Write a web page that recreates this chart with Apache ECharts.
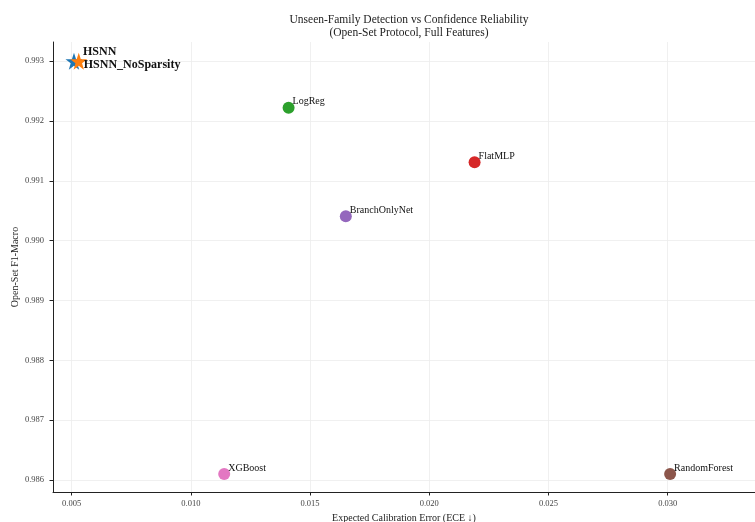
<!DOCTYPE html>
<html>
<head>
<meta charset="utf-8">
<script src="https://cdn.jsdelivr.net/npm/echarts@6/dist/echarts.min.js"></script>
<style>
  html, body { margin: 0; padding: 0; background: #fff; }
  #chart { width: 755px; height: 522px; }
</style>
</head>
<body>
<div id="chart"></div>
<script>
// Models: name, ECE (x), open-set F1-macro (y)
const modelNames = ['HSNN', 'HSNN_NoSparsity', 'LogReg', 'FlatMLP', 'BranchOnlyNet', 'XGBoost', 'RandomForest'];
const eceValues = [0.0051, 0.0053, 0.0141, 0.0219, 0.0165, 0.0114, 0.0301];
const f1Values = [0.99300, 0.99300, 0.99222, 0.99131, 0.99041, 0.98610, 0.98610];
const modelColors = ['#1f77b4', '#ff7f0e', '#2ca02c', '#d62728', '#9467bd', '#e377c2', '#8c564b'];

const xTicks = [0.005, 0.010, 0.015, 0.020, 0.025, 0.030];
const yTicks = [0.986, 0.987, 0.988, 0.989, 0.990, 0.991, 0.992, 0.993];

const STAR = 'path://M50,0 L61.8,35.1 L98.1,35.1 L68.7,56.8 L79.4,91.4 L50,70 L20.6,91.4 L31.3,56.8 L1.9,35.1 L38.2,35.1 Z';
const FONT = '"Liberation Serif", "DejaVu Serif", serif';

const series = modelNames.map((name, i) => {
  const isOurs = name.startsWith('HSNN');
  let labelOffset = [4, -6];
  if (name === 'HSNN') labelOffset = [9, -9];
  if (name === 'HSNN_NoSparsity') labelOffset = [5, 4];
  return {
    name: name,
    type: 'scatter',
    data: [[eceValues[i], f1Values[i]]],
    symbol: isOurs ? STAR : 'circle',
    symbolSize: isOurs ? 17 : 12,
    itemStyle: { color: modelColors[i], opacity: 1 },
    z: isOurs ? (name === 'HSNN' ? 3 : 4) : 2,
    label: {
      show: true,
      formatter: name,
      position: 'inside',
      align: 'left',
      verticalAlign: 'middle',
      offset: labelOffset,
      fontFamily: FONT,
      fontSize: isOurs ? 12 : 10,
      fontWeight: isOurs ? 'bold' : 'normal',
      color: '#111'
    }
  };
});

const axisCommon = {
  axisLine: { show: true, onZero: false, lineStyle: { color: '#222', width: 1 } },
  axisTick: { show: true, inside: false, length: 3.5, lineStyle: { color: '#222' } },
  splitLine: { show: true, lineStyle: { color: '#ececec', width: 0.8 } },
  nameTextStyle: { fontFamily: FONT, fontSize: 10, color: '#222' }
};

const chart = echarts.init(document.getElementById('chart'), null, { renderer: 'canvas' });
chart.setOption({
  animation: false,
  backgroundColor: '#fff',
  title: {
    text: 'Unseen-Family Detection vs Confidence Reliability\n(Open-Set Protocol, Full Features)',
    left: 404,
    top: 8,
    textAlign: 'center',
    textStyle: { fontFamily: FONT, fontSize: 11.5, fontWeight: 'normal', color: '#222', lineHeight: 13 }
  },
  grid: { left: 53, top: 42, right: 0, bottom: 30, containLabel: false, outerBoundsMode: 'none' },
  xAxis: Object.assign({}, axisCommon, {
    type: 'value',
    min: 0.00422,
    max: 0.03366,
    name: 'Expected Calibration Error (ECE \u2193)',
    nameLocation: 'middle',
    nameGap: 19,
    axisTick: Object.assign({}, axisCommon.axisTick, { customValues: xTicks }),
    axisLabel: {
      customValues: xTicks,
      formatter: v => v.toFixed(3),
      fontFamily: FONT, fontSize: 8.5, color: '#444', margin: 7
    }
  }),
  yAxis: Object.assign({}, axisCommon, {
    type: 'value',
    min: 0.98580,
    max: 0.99332,
    name: 'Open-Set F1-Macro',
    nameLocation: 'middle',
    nameGap: 33,
    nameMoveOverlap: false,
    axisTick: Object.assign({}, axisCommon.axisTick, { customValues: yTicks }),
    axisLabel: {
      customValues: yTicks,
      formatter: v => v.toFixed(3),
      fontFamily: FONT, fontSize: 8.5, color: '#444', margin: 9
    }
  }),
  series: series
});
</script>
</body>
</html>
